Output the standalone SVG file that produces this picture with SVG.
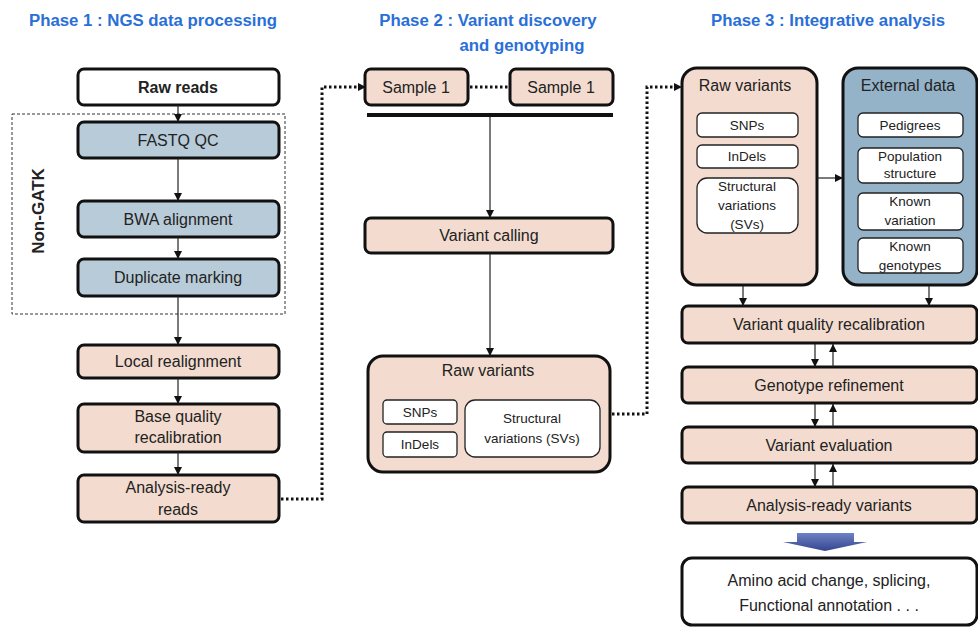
<svg xmlns="http://www.w3.org/2000/svg" width="978" height="627" viewBox="0 0 978 627">
<defs>
<style>
text{font-family:"Liberation Sans","Open Sans",sans-serif;fill:#222;text-anchor:middle}
.title{font-weight:bold;fill:#2a6fd8;font-size:16.8px}
.lbl{font-size:16px}
.sm{font-size:13.5px}
.box{stroke:#111;stroke-width:3}
.pink{fill:#f3dccf}
.blue{fill:#b8cbd9}
.dblue{fill:#94b2c8}
.white{fill:#fff}
.inner{fill:#fff;stroke:#222;stroke-width:1.3}
.ln{stroke:#222;stroke-width:1.2;fill:none}
.dot{stroke:#111;stroke-width:3;stroke-dasharray:2.5 2.5;fill:none}
</style>
<marker id="ah" viewBox="0 0 10 10" refX="10" refY="5" markerWidth="8" markerHeight="8" markerUnits="userSpaceOnUse" orient="auto">
<path d="M0,0L10,5L0,10z" fill="#111"/>
</marker>
<linearGradient id="bg" x1="0" y1="0" x2="0" y2="1">
<stop offset="0" stop-color="#6e82c4"/>
<stop offset="1" stop-color="#34458f"/>
</linearGradient>
</defs>

<g id="titles">
<text class="title" x="153" y="26">Phase 1 : NGS data processing</text>
<text class="title" x="488" y="26">Phase 2 : Variant discovery</text>
<text class="title" x="522" y="51">and genotyping</text>
<text class="title" x="828" y="26">Phase 3 : Integrative analysis</text>
</g>

<g id="non-gatk">
<rect x="12" y="114" width="273" height="200" fill="none" stroke="#333" stroke-width="1" stroke-dasharray="3 2"/>
<text class="lbl" x="0" y="0" transform="translate(44,211) rotate(-90)" style="font-weight:bold;font-size:17px">Non-GATK</text>
</g>

<g id="raw-reads"><rect class="box white" x="78" y="69" width="201" height="36" rx="6"/><text class="lbl" x="178" y="93" style="font-weight:bold">Raw reads</text></g>
<g id="fastq-qc"><rect class="box blue" x="78" y="122" width="201" height="36" rx="6"/><text class="lbl" x="178" y="146">FASTQ QC</text></g>
<g id="bwa"><rect class="box blue" x="78" y="201" width="201" height="36" rx="6"/><text class="lbl" x="178" y="225">BWA alignment</text></g>
<g id="dup"><rect class="box blue" x="78" y="259" width="201" height="37" rx="6"/><text class="lbl" x="178" y="283">Duplicate marking</text></g>
<g id="local"><rect class="box pink" x="78" y="345" width="201" height="33" rx="6"/><text class="lbl" x="178" y="367">Local realignment</text></g>
<g id="bqr"><rect class="box pink" x="78" y="404" width="201" height="48" rx="6"/><text class="lbl" x="178" y="422">Base quality</text><text class="lbl" x="178" y="443">recalibration</text></g>
<g id="ar-reads"><rect class="box pink" x="78" y="475" width="201" height="47" rx="6"/><text class="lbl" x="178" y="493">Analysis-ready</text><text class="lbl" x="178" y="515">reads</text></g>

<g id="sample1a"><rect class="box pink" x="365" y="69" width="103" height="36" rx="6"/><text class="lbl" x="416" y="93">Sample 1</text></g>
<g id="sample1b"><rect class="box pink" x="510" y="69" width="103" height="36" rx="6"/><text class="lbl" x="561" y="93">Sample 1</text></g>
<g id="variant-calling"><rect class="box pink" x="365" y="218" width="248" height="35" rx="6"/><text class="lbl" x="489" y="241">Variant calling</text></g>
<g id="raw-variants-2">
<rect class="box pink" x="368" y="356" width="242" height="116" rx="15"/>
<text class="lbl" x="488" y="376">Raw variants</text>
<rect class="inner" x="383" y="400" width="74" height="24" rx="4"/><text class="sm" x="420" y="417">SNPs</text>
<rect class="inner" x="383" y="432" width="74" height="25" rx="4"/><text class="sm" x="420" y="449">InDels</text>
<rect class="inner" x="465" y="400" width="135" height="57" rx="10"/><text class="sm" x="532" y="423">Structural</text><text class="sm" x="532" y="443">variations (SVs)</text>
</g>

<g id="raw-variants-3">
<rect class="box pink" x="682" y="68" width="135" height="217" rx="15"/>
<text class="lbl" x="745" y="91">Raw variants</text>
<rect class="inner" x="697" y="113" width="101" height="24" rx="5"/><text class="sm" x="747" y="130">SNPs</text>
<rect class="inner" x="697" y="145" width="101" height="23" rx="5"/><text class="sm" x="747" y="161">InDels</text>
<rect class="inner" x="697" y="178" width="101" height="55" rx="10"/><text class="sm" x="747" y="191">Structural</text><text class="sm" x="747" y="210">variations</text><text class="sm" x="747" y="229">(SVs)</text>
</g>
<g id="external">
<rect class="box dblue" x="843" y="68" width="134" height="217" rx="15"/>
<text class="lbl" x="908" y="91">External data</text>
<rect class="inner" x="858" y="113" width="105" height="24" rx="5"/><text class="sm" x="910" y="130">Pedigrees</text>
<rect class="inner" x="858" y="148" width="105" height="35" rx="5"/><text class="sm" x="910" y="161">Population</text><text class="sm" x="910" y="178">structure</text>
<rect class="inner" x="858" y="193" width="105" height="37" rx="5"/><text class="sm" x="910" y="206">Known</text><text class="sm" x="910" y="225">variation</text>
<rect class="inner" x="858" y="238" width="105" height="35" rx="5"/><text class="sm" x="910" y="251">Known</text><text class="sm" x="910" y="270">genotypes</text>
</g>
<g id="vqr"><rect class="box pink" x="682" y="306" width="295" height="37" rx="6"/><text class="lbl" x="829" y="330">Variant quality recalibration</text></g>
<g id="geno"><rect class="box pink" x="682" y="367" width="295" height="36" rx="6"/><text class="lbl" x="829" y="391">Genotype refinement</text></g>
<g id="veval"><rect class="box pink" x="682" y="427" width="295" height="36" rx="6"/><text class="lbl" x="829" y="451">Variant evaluation</text></g>
<g id="ar-variants"><rect class="box pink" x="682" y="487" width="295" height="36" rx="6"/><text class="lbl" x="829" y="511">Analysis-ready variants</text></g>
<g id="big-arrow"><path d="M797,533H854V542H867L825,551L783,542H797Z" fill="url(#bg)"/></g>
<g id="annotation"><rect class="box white" x="682" y="558" width="295" height="67" rx="10"/><text class="lbl" x="829" y="586">Amino acid change, splicing,</text><text class="lbl" x="829" y="611">Functional annotation . . .</text></g>

<g id="connectors">
<line class="ln" x1="178" y1="105" x2="178" y2="122" marker-end="url(#ah)"/>
<line class="ln" x1="178" y1="158" x2="178" y2="201" marker-end="url(#ah)"/>
<line class="ln" x1="178" y1="237" x2="178" y2="259" marker-end="url(#ah)"/>
<line class="ln" x1="178" y1="296" x2="178" y2="345" marker-end="url(#ah)"/>
<line class="ln" x1="178" y1="378" x2="178" y2="404" marker-end="url(#ah)"/>
<line class="ln" x1="178" y1="452" x2="178" y2="475" marker-end="url(#ah)"/>
<path class="dot" d="M281,499H322V87H358"/>
<path d="M358,83L366,87L358,91z" fill="#111"/>
<line class="dot" x1="470" y1="87" x2="508" y2="87"/>
<line x1="367" y1="115" x2="613" y2="115" stroke="#111" stroke-width="4"/>
<line class="ln" x1="490" y1="117" x2="490" y2="218" marker-end="url(#ah)"/>
<line class="ln" x1="490" y1="253" x2="490" y2="356" marker-end="url(#ah)"/>
<path class="dot" d="M612,414H647V87H674"/>
<path d="M674,83L682,87L674,91z" fill="#111"/>
<line class="ln" x1="817" y1="178" x2="843" y2="178" marker-end="url(#ah)"/>
<line class="ln" x1="743" y1="286" x2="743" y2="306" marker-end="url(#ah)"/>
<line class="ln" x1="929" y1="286" x2="929" y2="306" marker-end="url(#ah)"/>
<line class="ln" x1="815" y1="344" x2="815" y2="367" marker-end="url(#ah)"/>
<line class="ln" x1="833" y1="367" x2="833" y2="344" marker-end="url(#ah)"/>
<line class="ln" x1="815" y1="404" x2="815" y2="427" marker-end="url(#ah)"/>
<line class="ln" x1="833" y1="427" x2="833" y2="404" marker-end="url(#ah)"/>
<line class="ln" x1="815" y1="464" x2="815" y2="487" marker-end="url(#ah)"/>
<line class="ln" x1="833" y1="487" x2="833" y2="464" marker-end="url(#ah)"/>
</g>
</svg>
